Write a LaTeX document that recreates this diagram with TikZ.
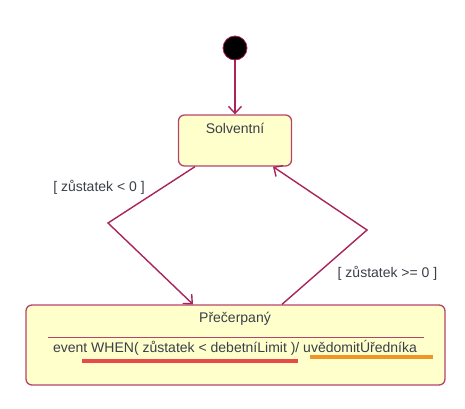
\documentclass[tikz,border=0pt]{standalone}
\usepackage{fontspec}
\setmainfont{Liberation Sans}
\usetikzlibrary{arrows.meta}
\definecolor{edge}{HTML}{A8245A}
\definecolor{bord}{HTML}{B8436A}
\definecolor{fillc}{HTML}{FFFFCC}
\definecolor{txt}{HTML}{3A3F48}
\definecolor{redu}{HTML}{E84A4A}
\definecolor{orau}{HTML}{F0952A}
\begin{document}
\begin{tikzpicture}[x=1pt,y=-1pt,
  statebox/.style={draw=bord, line width=1.3pt, fill=fillc, rounded corners=6pt, inner sep=0pt},
  lbl/.style={text=txt, font=\fontsize{14}{16}\selectfont, inner sep=0pt},
  conn/.style={draw=edge, line width=1.4pt, -{Straight Barb[length=7pt,width=13pt]}}]
\useasboundingbox (0,0) rectangle (465,408);
\node[circle, fill=black, draw=edge, line width=0.8pt, minimum size=24pt, inner sep=0pt] (init) at (235,48) {};
\node[statebox, minimum width=113pt, minimum height=51pt] (solv) at (235,140.5) {};
\node[lbl] (solvt) at (235,128) {Solventní};
\node[statebox, minimum width=419pt, minimum height=80pt] (prec) at (235.5,345) {};
\node[lbl] (prect) at (235,319) {Přečerpaný};
\draw[draw=bord, line width=1pt] ([xshift=-188pt]prec.center |- 0,337) coordinate (d1) -- ([xshift=188pt]prec.center |- 0,337) coordinate (d2);
\node[lbl] (ev) at (235,348) {event WHEN( zůstatek < debetníLimit )/ uvědomitÚředníka};
\draw[redu, line width=4.5pt] (82,361) coordinate (r1) -- (298,361) coordinate (r2);
\draw[orau, line width=4pt] (310,357) coordinate (o1) -- (433,357) coordinate (o2);
\draw[conn] (init) -- (solv);
\coordinate (k1) at (108,223);
\coordinate (k2) at (367,230);
\draw[conn] ([xshift=-40pt]solv.south) -- (k1) -- ([xshift=-42.5pt]prec.north);
\draw[conn] ([xshift=46.5pt]prec.north) -- (k2) -- ([xshift=38pt]solv.south);
\node[lbl] (g1) at (99,187) {[ zůstatek < 0 ]};
\node[lbl] (g2) at (387.5,273) {[ zůstatek >= 0 ]};
\end{tikzpicture}
\end{document}
